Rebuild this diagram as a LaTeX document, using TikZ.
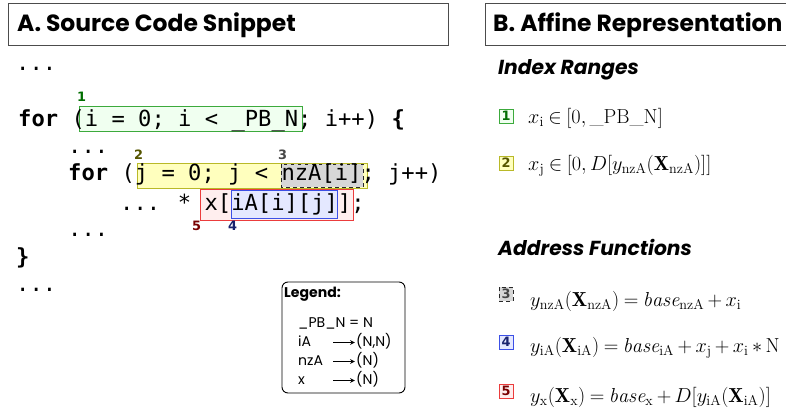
\documentclass[tikz,border=0pt]{standalone}
\usepackage{fontspec}
\newfontfamily\gothic{Poppins}
\newfontfamily\codefont{DejaVu Sans Mono}
\newfontfamily\tagfont{DejaVu Sans}
\newcommand\tightmath{\medmuskip=3mu\relax\thickmuskip=4mu\relax}

\definecolor{greenfill}{RGB}{240,255,240}
\definecolor{greenline}{RGB}{60,170,60}
\definecolor{greentext}{RGB}{0,110,0}
\definecolor{yellowfill}{RGB}{255,255,190}
\definecolor{yellowline}{RGB}{185,185,40}
\definecolor{yellowtext}{RGB}{85,85,0}
\definecolor{grayfill}{RGB}{215,215,215}
\definecolor{grayline}{RGB}{40,40,40}
\definecolor{graytext}{RGB}{70,70,70}
\definecolor{bluefill}{RGB}{228,232,255}
\definecolor{blueline}{RGB}{60,80,230}
\definecolor{bluetext}{RGB}{25,35,110}
\definecolor{redfill}{RGB}{255,238,238}
\definecolor{redline}{RGB}{235,60,60}
\definecolor{redtext}{RGB}{120,0,0}

\tikzset{
  frame/.style={draw=black!70, line width=0.8pt},
  title/.style={font=\gothic\bfseries\fontsize{20}{24}\selectfont, anchor=base west, inner sep=0},
  subhead/.style={font=\gothic\bfseries\itshape\fontsize{17.3}{20}\selectfont, anchor=base west, inner sep=0},
  code/.style={font=\codefont\fontsize{18.9}{22}\selectfont, anchor=base west, inner sep=0},
  tag/.style={font=\tagfont\bfseries\fontsize{11}{13}\selectfont, inner sep=0},
  formula/.style={font=\fontsize{17.3}{21}\selectfont\tightmath, anchor=base west, inner sep=0},
  numbox/.style={font=\tagfont\bfseries\fontsize{11}{13}\selectfont, minimum width=0.42cm, minimum height=0.42cm, inner sep=0, line width=0.8pt},
  legtext/.style={font=\gothic\fontsize{12}{14}\selectfont, anchor=base west, inner sep=0, text height=8.5pt, text depth=2.5pt},
  legkey/.style={legtext, text width=1.05cm, align=left},
  legarrow/.style={-stealth, line width=0.8pt, shorten >=1pt},
  rangei/.style={draw=greenline, fill=greenfill, line width=0.8pt},
  rangej/.style={draw=yellowline, fill=yellowfill, line width=0.8pt},
  addrnza/.style={draw=grayline, fill=grayfill, dashed, line width=0.8pt},
  addria/.style={draw=blueline, fill=bluefill, line width=0.8pt},
  addrx/.style={draw=redline, fill=redfill, line width=0.8pt}
}

\begin{document}
\begin{tikzpicture}[x=0.03cm, y=-0.03cm]
\useasboundingbox (0,0) rectangle (786,415);

% headers
\draw[frame] (8,3) rectangle (448,45);
\node[title] (titleA) at (17,31) {A. Source Code Snippet};
\draw[frame] (786,3) -- (485,3) -- (485,45) -- (786,45);
\node[title] (titleB) at (493,31) {B. Affine Representation};

% highlighted parts of the code
\draw[rangei] (79,106) rectangle (302,131);
\draw[rangej] (137,163) rectangle (367,188);
\draw[addrnza] (281,164) rectangle (363,187);
\draw[addrx] (200,189) rectangle (353,220);
\draw[addria] (231,190) rectangle (337,218);

% source code
\node[code] (dotsA) at (16,70) {...};
\node[code] (loopi) at (18,126) {\textbf{for} (i = 0; i < \_PB\_N; i++) \textbf{\{}};
\node[code] (dotsB) at (68,153) {...};
\node[code] (loopj) at (68,180) {\textbf{for} (j = 0; j < nzA[i]; j++)};
\node[code] (body) at (120,210) {... * x[iA[i][j]];};
\node[code] (dotsC) at (68,236) {...};
\node[code] (close) at (16,264) {\textbf{\}}};
\node[code] (dotsD) at (16,291) {...};

\node[tag, greentext] (tag1) at (81.5,97) {1};
\node[tag, yellowtext] (tag2) at (138.5,154.5) {2};
\node[tag, graytext] (tag3) at (282.5,154.5) {3};
\node[tag, bluetext] (tag4) at (232.5,225.5) {4};
\node[tag, redtext] (tag5) at (196.5,225.5) {5};

% legend
\draw[line width=0.8pt, rounded corners=0.18cm] (282,282) rectangle (405,393);
\node[legtext, font=\gothic\bfseries\fontsize{12}{14}\selectfont] (legend) at (284,297) {Legend:};
\node[legtext] (legpb) at (298,327) {\_PB\_N = N};
\node[legkey] (keyia) at (298,346) {iA};
\node[legtext] (shpia) at (356,346) {(N,N)};
\node[legkey] (keynza) at (298,365) {nzA};
\node[legtext] (shpnza) at (356,365) {(N)};
\node[legkey] (keyx) at (298,384) {x};
\node[legtext] (shpx) at (356,384) {(N)};
\draw[legarrow] (keyia.east) -- (shpia.west);
\draw[legarrow] (keynza.east) -- (shpnza.west);
\draw[legarrow] (keyx.east) -- (shpx.west);

% affine representation
\node[subhead] (ranges) at (498,74) {Index Ranges};
\node[numbox, rangei, text=greentext] (num1) at (506,116) {1};
\node[formula] (form1) at (528,123) {$x_{\mathrm{i}} \in [0, \mathrm{\_PB\_N}]$};
\node[numbox, rangej, text=yellowtext] (num2) at (506,163) {2};
\node[formula] (form2) at (528,170) {$x_{\mathrm{j}} \in [0, D[y_{\mathrm{nzA}}(\mathbf{X}_{\mathrm{nzA}})]]$};

\node[subhead] (functions) at (498,255) {Address Functions};
\node[numbox, addrnza, text=graytext] (num3) at (506,294) {3};
\node[formula] (form3) at (530,306) {$y_{\mathrm{nzA}}(\mathbf{X}_{\mathrm{nzA}}) = \mathit{base}_{\mathrm{nzA}} + x_{\mathrm{i}}$};
\node[numbox, addria, text=bluetext] (num4) at (506,342) {4};
\node[formula] (form4) at (530,352) {$y_{\mathrm{iA}}(\mathbf{X}_{\mathrm{iA}}) = \mathit{base}_{\mathrm{iA}} + x_{\mathrm{j}} + x_{\mathrm{i}} * \mathrm{N}$};
\node[numbox, addrx, text=redtext] (num5) at (506,391) {5};
\node[formula] (form5) at (530,402) {$y_{\mathrm{x}}(\mathbf{X}_{\mathrm{x}}) = \mathit{base}_{\mathrm{x}} + D[y_{\mathrm{iA}}(\mathbf{X}_{\mathrm{iA}})]$};
\end{tikzpicture}
\end{document}
